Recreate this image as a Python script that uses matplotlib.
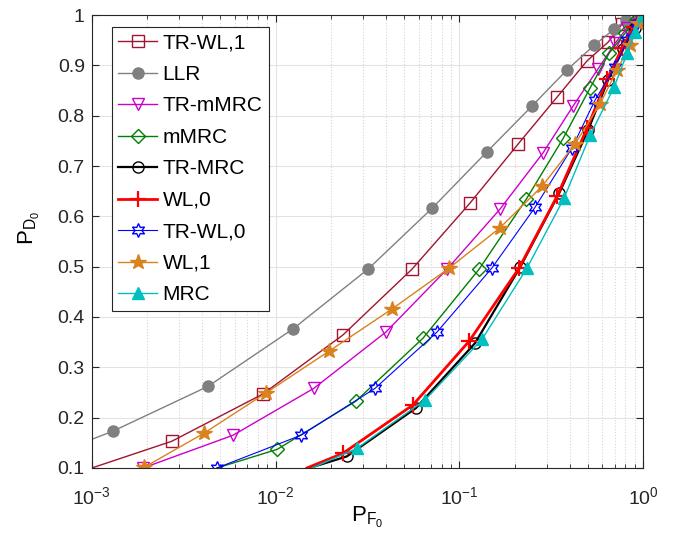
import numpy as np
import matplotlib
matplotlib.use('Agg')
import matplotlib.pyplot as plt

plt.rcParams['font.family'] = ['Liberation Sans', 'DejaVu Sans']
plt.rcParams['mathtext.fontset'] = 'custom'
plt.rcParams['mathtext.rm'] = 'Liberation Sans'
plt.rcParams['mathtext.it'] = 'Liberation Sans'

# ROC points (P_F0, P_D0)
llr_pf = [0.001, 0.0013, 0.00428, 0.0124, 0.0318, 0.071, 0.141, 0.248, 0.385, 0.541, 0.695, 0.807, 1.0]
llr_pd = [0.157, 0.173, 0.262, 0.376, 0.495, 0.616, 0.728, 0.819, 0.891, 0.940, 0.972, 0.990, 1.0]

trwl1_pf = [0.001, 0.00272, 0.00853, 0.0232, 0.0552, 0.114, 0.209, 0.340, 0.495, 0.644, 0.767, 0.88, 1.0]
trwl1_pd = [0.100, 0.153, 0.247, 0.364, 0.495, 0.626, 0.744, 0.837, 0.909, 0.946, 0.982, 0.995, 1.0]

trmmrc_pf = [0.0019, 0.00586, 0.0161, 0.0398, 0.0857, 0.166, 0.285, 0.415, 0.568, 0.703, 0.82, 0.93, 1.0]
trmmrc_pd = [0.100, 0.165, 0.258, 0.370, 0.495, 0.614, 0.726, 0.819, 0.893, 0.944, 0.975, 0.993, 1.0]

mmrc_pf = [0.0048, 0.0102, 0.0274, 0.0634, 0.128, 0.231, 0.367, 0.514, 0.652, 0.797, 0.91, 1.0]
mmrc_pd = [0.100, 0.137, 0.233, 0.358, 0.495, 0.634, 0.755, 0.855, 0.924, 0.964, 0.990, 1.0]

trmrc_pf = [0.0153, 0.0244, 0.058, 0.1216, 0.214, 0.349, 0.501, 0.644, 0.778, 0.90, 1.0]
trmrc_pd = [0.100, 0.123, 0.219, 0.348, 0.499, 0.646, 0.771, 0.871, 0.932, 0.975, 1.0]

wl0_pf = [0.0148, 0.0232, 0.0558, 0.113, 0.211, 0.340, 0.495, 0.637, 0.767, 0.89, 1.0]
wl0_pd = [0.100, 0.129, 0.225, 0.352, 0.497, 0.640, 0.775, 0.873, 0.934, 0.977, 1.0]

trwl0_pf = [0.00479, 0.01374, 0.0347, 0.0755, 0.150, 0.258, 0.410, 0.547, 0.703, 0.82, 0.93, 1.0]
trwl0_pd = [0.100, 0.165, 0.258, 0.370, 0.497, 0.618, 0.736, 0.831, 0.897, 0.950, 0.985, 1.0]

wl1_pf = [0.00192, 0.00407, 0.00886, 0.0195, 0.0430, 0.0878, 0.166, 0.282, 0.426, 0.582, 0.721, 0.849, 0.94, 1.0]
wl1_pd = [0.101, 0.169, 0.249, 0.332, 0.416, 0.497, 0.577, 0.660, 0.744, 0.823, 0.891, 0.940, 0.985, 1.0]

mrc_pf = [0.0158, 0.0277, 0.0650, 0.133, 0.233, 0.371, 0.514, 0.695, 0.817, 0.903, 1.0]
mrc_pd = [0.100, 0.139, 0.235, 0.356, 0.497, 0.636, 0.761, 0.857, 0.924, 0.966, 1.0]

fig = plt.figure(figsize=(6.85, 5.48), dpi=100)
ax = fig.add_axes([0.134, 0.146, 0.805, 0.8266])

# first point of some series is only where the curve enters the axes
ax.plot(trwl1_pf, trwl1_pd, color='#A2142F', lw=1, marker='s', ms=8, mfc='none', markevery=list(range(1, 13)), label='TR-WL,1')
ax.plot(llr_pf, llr_pd, color='#808080', lw=1, marker='o', ms=8, mfc='#808080', markevery=list(range(1, 13)), label='LLR')
ax.plot(trmmrc_pf, trmmrc_pd, color='#CC00CC', lw=1, marker='v', ms=9, mfc='none', label='TR-mMRC')
ax.plot(mmrc_pf, mmrc_pd, color='#008000', lw=1, marker='D', ms=7, mfc='none', markevery=list(range(1, 12)), label='mMRC')
ax.plot(trmrc_pf, trmrc_pd, color='black', lw=1.6, marker='o', ms=8, mfc='none', markevery=list(range(1, 11)), label='TR-MRC')
ax.plot(wl0_pf, wl0_pd, color='#FF0000', lw=2, marker='+', ms=11, mew=1.6, markevery=list(range(1, 11)), label='WL,0')
ax.plot(trwl0_pf, trwl0_pd, color='#0000FF', lw=0.8, marker=(6, 1, 0), ms=10, mfc='none', label='TR-WL,0')
ax.plot(wl1_pf, wl1_pd, color='#D9821E', lw=1, marker='*', ms=11.5, mfc='#D9821E', label='WL,1')
ax.plot(mrc_pf, mrc_pd, color='#00BFBF', lw=1, marker='^', ms=9, mfc='#00BFBF', markevery=list(range(1, 11)), label='MRC')

ax.set_xscale('log')
ax.set_xlim(1e-3, 1)
ax.set_ylim(0.1, 1)
ax.set_yticks(np.arange(0.1, 1.01, 0.1))
ax.set_yticklabels(['0.1', '0.2', '0.3', '0.4', '0.5', '0.6', '0.7', '0.8', '0.9', '1'])

ax.grid(True, which='major', color='#E3E3E3', lw=0.8, ls='-')
ax.grid(True, which='minor', axis='x', color='#D5D5D5', lw=0.8, ls=':')
ax.set_axisbelow(True)
ax.tick_params(which='both', direction='in', top=True, right=True, labelsize=14, colors='#262626')
ax.tick_params(which='major', length=5)
ax.tick_params(which='minor', length=3)
ax.tick_params(axis='x', which='major', pad=13)
ax.tick_params(axis='y', which='major', pad=5)
for s in ax.spines.values():
    s.set_color('#262626')
    s.set_linewidth(0.8)

ax.set_xlabel(r'$\mathregular{P_{F_0}}$', fontsize=16, labelpad=-2)
ax.set_ylabel(r'$\mathregular{P_{D_0}}$', fontsize=16)
ax.yaxis.set_label_coords(-0.09, 0.53)

leg = ax.legend(loc='upper left', bbox_to_anchor=(0.036, 0.973), fontsize=15, fancybox=False,
                framealpha=1, edgecolor='#262626', handlelength=1.9, handletextpad=0.25,
                labelspacing=0.6, borderpad=0.3, borderaxespad=0)
leg.get_frame().set_linewidth(0.8)

plt.savefig('out.png', dpi=100)
plt.close()
